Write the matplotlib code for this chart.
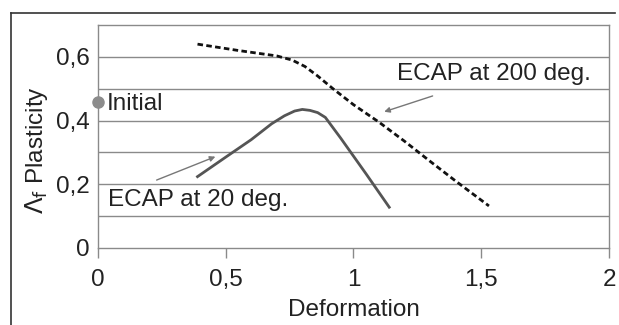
import matplotlib.pyplot as plt
from matplotlib.lines import Line2D

plt.rcParams['font.family'] = ['Liberation Sans', 'DejaVu Sans']

# ECAP at 200 deg. (dashed)
hot_x = [0.39, 0.55, 0.70, 0.76, 0.81, 0.86, 0.92, 1.00, 1.10, 1.20, 1.30, 1.40, 1.53]
hot_y = [0.64, 0.62, 0.603, 0.59, 0.57, 0.54, 0.50, 0.45, 0.395, 0.335, 0.272, 0.21, 0.132]

# ECAP at 20 deg. (solid)
cold_x = [0.39, 0.50, 0.60, 0.68, 0.73, 0.77, 0.80, 0.83, 0.86, 0.89, 0.95, 1.05, 1.14]
cold_y = [0.224, 0.285, 0.34, 0.39, 0.415, 0.43, 0.435, 0.432, 0.425, 0.41, 0.345, 0.232, 0.128]

init_x = [0]
init_y = [0.457]

xticks = [0, 0.5, 1, 1.5, 2]
xtick_labels = ["0", "0,5", "1", "1,5", "2"]
yticks = [0, 0.2, 0.4, 0.6]
ytick_labels = ["0", "0,2", "0,4", "0,6"]

fig = plt.figure(figsize=(6.19, 3.25), dpi=100)
ax = fig.add_axes([0.158, 0.237, 0.826, 0.686])

grey = "#8a8a8a"
fs = 17.5
for g in [0.1, 0.2, 0.3, 0.4, 0.5, 0.6]:
    ax.axhline(g, color=grey, lw=1, zorder=1)

ax.plot(hot_x, hot_y, color="#111111", lw=2, ls=(0, (2, 1.2)), zorder=3)
ax.plot(cold_x, cold_y, color="#555555", lw=2, zorder=3)
ax.plot(init_x, init_y, "o", color="#8c8c8c", ms=8, zorder=4, clip_on=False)

ax.set_xlim(0, 2)
ax.set_ylim(0, 0.7)
ax.set_xticks(xticks)
ax.set_xticklabels(xtick_labels, fontsize=fs, color="#222222")
ax.set_yticks(yticks)
ax.set_yticklabels(ytick_labels, fontsize=fs, color="#222222")
ax.tick_params(axis='x', length=7, width=1, color=grey, pad=8)
ax.tick_params(axis='y', length=0, pad=6)
for s in ax.spines.values():
    s.set_color(grey)
    s.set_linewidth(1)

ax.set_xlabel("Deformation", fontsize=fs, color="#222222", labelpad=6)
fig.text(37 / 619, 1 - 150 / 325, r"$\Lambda_{\mathrm{f}}$ Plasticity", rotation=90,
         fontsize=fs, color="#222222", ha="center", va="center")

ax.text(0.035, 0.452, "Initial", fontsize=fs, color="#222222", va="center")
ax.text(0.04, 0.15, "ECAP at 20 deg.", fontsize=fs, color="#222222", va="center")
ax.text(1.17, 0.545, "ECAP at 200 deg.", fontsize=fs, color="#222222", va="center")

ax.annotate("", xy=(0.47, 0.29), xytext=(0.22, 0.21),
            arrowprops=dict(arrowstyle="-|>", color="#777777", lw=1, mutation_scale=8))
ax.annotate("", xy=(1.11, 0.425), xytext=(1.32, 0.48),
            arrowprops=dict(arrowstyle="-|>", color="#777777", lw=1, mutation_scale=8))

# outer frame (top and left)
fig.add_artist(Line2D([11 / 619, 11 / 619], [0, 1 - 13 / 325], color="#333333", lw=1.2))
fig.add_artist(Line2D([11 / 619, 615 / 619], [1 - 13 / 325, 1 - 13 / 325], color="#333333", lw=1.2))

fig.savefig("out.png", dpi=100)
